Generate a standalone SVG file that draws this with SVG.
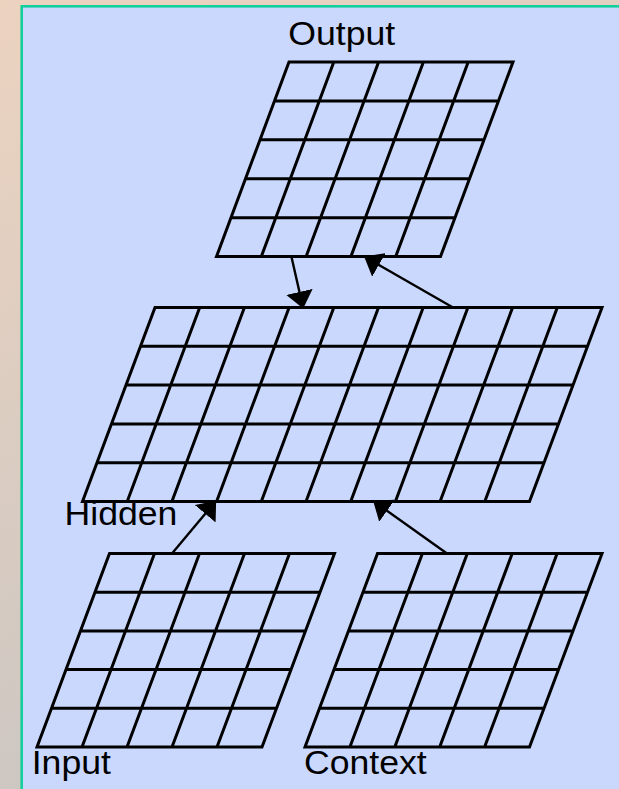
<svg xmlns="http://www.w3.org/2000/svg" width="619" height="789" viewBox="0 0 619 789">
  <defs>
    <linearGradient id="bg" x1="0" y1="0" x2="0.3" y2="1">
      <stop offset="0" stop-color="#ecd3c0"/>
      <stop offset="1" stop-color="#cbc6c2"/>
    </linearGradient>
    <marker id="arrow" viewBox="0 0 17 27" refX="16" refY="13.5" markerWidth="17" markerHeight="27" markerUnits="userSpaceOnUse" orient="auto">
      <path d="M0,0 L17,13.5 L0,27 Z" fill="#000"/>
    </marker>
    <style>
      .grid { fill: none; stroke: #000; stroke-width: 3; stroke-linejoin: miter; }
      .conn { fill: none; stroke: #000; stroke-width: 2.4; marker-end: url(#arrow); }
      .lbl { font-family: "Liberation Sans", Arial, Helvetica, sans-serif; font-size: 33px; fill: #000; }
    </style>
  </defs>

  <rect x="0" y="0" width="619" height="789" fill="url(#bg)"/>
  <rect x="21.7" y="6.3" width="610" height="800" fill="#cad8fd" stroke="#12cf9b" stroke-width="2.6"/>

  <g id="output">
    <path class="grid" d="M289,62 L513,62 L440.5,256.6 L216.5,256.6 Z
      M274.5,100.92 H498.5 M260,139.84 H484 M245.5,178.76 H469.5 M231,217.68 H455
      M333.8,62 L261.3,256.6 M378.6,62 L306.1,256.6 M423.4,62 L350.9,256.6 M468.2,62 L395.7,256.6"/>
    <text class="lbl" transform="translate(288.3,45) scale(1.08,1)">Output</text>
  </g>

  <g id="hidden">
    <path class="grid" d="M155,307.5 L602,307.5 L529.5,501.5 L82.5,501.5 Z
      M140.5,346.3 H587.5 M126,385.1 H573 M111.5,423.9 H558.5 M97,462.7 H544
      M199.7,307.5 L127.2,501.5 M244.4,307.5 L171.9,501.5 M289.1,307.5 L216.6,501.5
      M333.8,307.5 L261.3,501.5 M378.5,307.5 L306,501.5 M423.2,307.5 L350.7,501.5
      M467.9,307.5 L395.4,501.5 M512.6,307.5 L440.1,501.5 M557.3,307.5 L484.8,501.5"/>
    <text class="lbl" transform="translate(64.5,525) scale(1.08,1)">Hidden</text>
  </g>

  <g id="input">
    <path class="grid" d="M109.5,553.5 L334.5,553.5 L262,747 L37,747 Z
      M95,592.2 H320 M80.5,630.9 H305.5 M66,669.6 H291 M51.5,708.3 H276.5
      M154.5,553.5 L82,747 M199.5,553.5 L127,747 M244.5,553.5 L172,747 M289.5,553.5 L217,747"/>
    <text class="lbl" transform="translate(31.7,774) scale(1.08,1)">Input</text>
  </g>

  <g id="context">
    <path class="grid" d="M377.5,553.5 L602,553.5 L529.5,747 L305,747 Z
      M363,592.2 H587.5 M348.5,630.9 H573 M334,669.6 H558.5 M319.5,708.3 H544
      M422.4,553.5 L349.9,747 M467.3,553.5 L394.8,747 M512.2,553.5 L439.7,747 M557.1,553.5 L484.6,747"/>
    <text class="lbl" transform="translate(304,774) scale(1.08,1)">Context</text>
  </g>

  <g id="connectors">
    <line class="conn" x1="291.5" y1="257" x2="303" y2="307.5"/>
    <line class="conn" x1="453" y1="307.5" x2="365" y2="257"/>
    <line class="conn" x1="172" y1="553.5" x2="215.5" y2="501.5"/>
    <line class="conn" x1="447" y1="553.5" x2="374" y2="501.5"/>
  </g>
</svg>
